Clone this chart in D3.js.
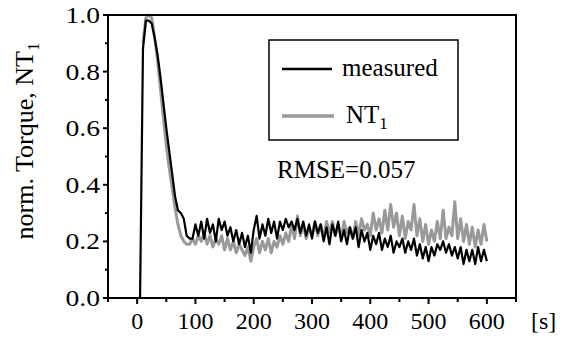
<!DOCTYPE html>
<html><head><meta charset="utf-8">
<script src="https://cdn.jsdelivr.net/npm/d3@7"></script>
</head><body style="margin:0"><svg id="c" width="567" height="342" style="font-family:'Liberation Serif'"></svg>
<script>
const timeStep = 5;
const measuredValues = [0,0,0.88,0.98,0.98,0.97,0.92,0.86,0.78,0.69,0.60,0.52,0.44,0.36,0.31,0.30,0.28,0.22,0.21,0.21,
0.26,0.22,0.27,0.21,0.28,0.23,0.26,0.20,0.28,0.24,0.27,0.22,0.25,0.20,0.24,0.19,0.23,0.18,0.22,0.16,
0.24,0.29,0.21,0.26,0.22,0.28,0.23,0.27,0.21,0.27,0.24,0.28,0.25,0.27,0.24,0.28,0.23,0.27,0.22,0.26,
0.21,0.27,0.23,0.26,0.20,0.25,0.19,0.26,0.22,0.27,0.20,0.24,0.19,0.25,0.21,0.25,0.18,0.24,0.20,0.23,
0.17,0.22,0.19,0.23,0.17,0.21,0.18,0.22,0.16,0.20,0.18,0.21,0.16,0.20,0.17,0.21,0.15,0.19,0.14,0.18,
0.13,0.18,0.15,0.19,0.17,0.20,0.16,0.19,0.15,0.18,0.14,0.18,0.12,0.17,0.13,0.17,0.12,0.18,0.13,0.17,0.13];
const nt1Start = 10;
const nt1Values = [0.90,0.99,1.0,0.99,0.92,0.84,0.74,0.64,0.54,0.46,0.39,0.32,0.26,0.22,0.20,0.19,0.19,0.21,
0.19,0.22,0.20,0.23,0.19,0.22,0.18,0.21,0.19,0.22,0.17,0.21,0.17,0.20,0.16,0.19,0.17,0.15,0.18,0.13,
0.18,0.21,0.16,0.20,0.17,0.21,0.16,0.20,0.18,0.22,0.19,0.23,0.20,0.26,0.21,0.29,0.22,0.26,0.21,0.25,
0.22,0.27,0.22,0.26,0.21,0.27,0.23,0.27,0.22,0.26,0.21,0.27,0.23,0.25,0.21,0.27,0.22,0.28,0.24,0.26,
0.22,0.30,0.24,0.28,0.23,0.31,0.24,0.33,0.25,0.30,0.22,0.29,0.21,0.27,0.24,0.33,0.22,0.28,0.20,0.26,
0.19,0.24,0.20,0.27,0.21,0.31,0.21,0.25,0.22,0.34,0.21,0.28,0.20,0.26,0.19,0.25,0.18,0.24,0.19,0.26,0.20];
const xTicks = [0,100,200,300,400,500,600];
const yTicks = [0.0,0.2,0.4,0.6,0.8,1.0];
const seriesNames = ["measured","NT"];
const rmseText = "RMSE=0.057";

const svg = d3.select("#c");
const m = {l:108, t:15, r:51, b:44};
const W = 567, H = 342;
const x = d3.scaleLinear().domain([-50,650]).range([m.l, W-m.r]);
const y = d3.scaleLinear().domain([0,1]).range([H-m.b, m.t]);

const measured = measuredValues.map((v,i)=>[i*timeStep, v]);
const nt1 = nt1Values.map((v,i)=>[nt1Start+i*timeStep, v]);
const line = d3.line().x(d=>x(d[0])).y(d=>y(d[1]));

svg.append("path").datum(nt1).attr("d",line).attr("fill","none").attr("stroke","#999").attr("stroke-width",3).attr("stroke-linejoin","round");
svg.append("path").datum(measured).attr("d",line).attr("fill","none").attr("stroke","#000").attr("stroke-width",2.2).attr("stroke-linejoin","round");

svg.append("rect").attr("x",m.l).attr("y",m.t).attr("width",W-m.r-m.l).attr("height",H-m.b-m.t)
  .attr("fill","none").attr("stroke","#000").attr("stroke-width",2);

function txt(sel, size){ return sel.style("font-family","Liberation Serif").style("font-size",size+"px"); }

const xMinor = d3.range(-50,651,50);
svg.append("g").selectAll("line").data(xMinor).join("line")
  .attr("x1",d=>x(d)).attr("x2",d=>x(d)).attr("y1",H-m.b).attr("y2",d=>H-m.b+(d%100===0?6:4))
  .attr("stroke","#000").attr("stroke-width",2);
svg.append("g").selectAll("text").data(xTicks).join("text")
  .attr("x",d=>x(d)).attr("y",329).attr("text-anchor","middle").call(txt,24).text(d=>d);
svg.append("text").attr("x",531).attr("y",329).call(txt,24).text("[s]");

const yMinor = d3.range(0,11).map(i=>i/10);
svg.append("g").selectAll("line").data(yMinor).join("line")
  .attr("x1",m.l).attr("x2",(d,i)=>m.l-(i%2===0?5:3)).attr("y1",d=>y(d)).attr("y2",d=>y(d))
  .attr("stroke","#000").attr("stroke-width",2);
svg.append("g").selectAll("text").data(yTicks).join("text")
  .attr("transform",d=>`translate(100,${y(d)+8}) scale(1.15,1)`).attr("text-anchor","end").call(txt,24).text(d=>d.toFixed(1));

const yl = svg.append("text").attr("transform","translate(33,141) rotate(-90)").attr("text-anchor","middle").call(txt,26);
yl.append("tspan").text("norm. Torque, NT");
yl.append("tspan").style("font-size","17px").attr("dy",6).text("1");

const lg = svg.append("g");
lg.append("rect").attr("x",269).attr("y",40).attr("width",189).attr("height",100).attr("fill","#fff").attr("stroke","#000").attr("stroke-width",1.5);
lg.append("line").attr("x1",282).attr("x2",332).attr("y1",69).attr("y2",69).attr("stroke","#000").attr("stroke-width",2.5);
lg.append("line").attr("x1",282).attr("x2",334).attr("y1",116).attr("y2",116).attr("stroke","#999").attr("stroke-width",3.5);
lg.append("text").attr("x",342).attr("y",76).call(txt,25).text(seriesNames[0]);
const t2 = lg.append("text").attr("x",346).attr("y",123).call(txt,25);
t2.append("tspan").text(seriesNames[1]);
t2.append("tspan").style("font-size","17px").attr("dy",6).text("1");

svg.append("text").attr("x",277).attr("y",178).call(txt,25).text(rmseText);
</script></body></html>
